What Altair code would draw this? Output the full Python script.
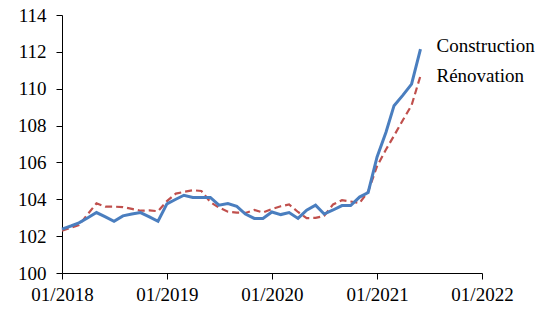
import altair as alt
import pandas as pd

months = pd.date_range("2018-01-01", "2021-06-01", freq="MS").strftime("%Y-%m-%d").tolist()

construction = [
    102.38, 102.55, 102.72, 103.00, 103.28, 103.05, 102.81, 103.10, 103.20, 103.28, 103.05, 102.81,
    103.75, 104.00, 104.22, 104.10, 104.10, 104.10, 103.68, 103.77, 103.62, 103.20, 102.96, 102.96,
    103.31, 103.17, 103.28, 102.96, 103.41, 103.68, 103.20, 103.42, 103.66, 103.66, 104.12, 104.37,
    106.30, 107.64, 109.08, 109.65, 110.25, 112.15,
]
renovation = [
    102.30, 102.45, 102.60, 103.20, 103.78, 103.60, 103.60, 103.58, 103.48, 103.38, 103.40, 103.35,
    103.90, 104.31, 104.40, 104.49, 104.45, 103.85, 103.55, 103.33, 103.28, 103.26, 103.42, 103.28,
    103.47, 103.62, 103.72, 103.31, 102.98, 102.99, 103.10, 103.72, 103.95, 103.88, 103.80, 104.42,
    105.80, 106.70, 107.45, 108.30, 109.10, 110.70,
]
series_names = ["Construction", "Rénovation"]
colors = ["#4A7EBF", "#C0504D"]
year_ticks = [2018, 2019, 2020, 2021, 2022]
y_ticks = list(range(100, 115, 2))

df = pd.DataFrame({
    "date": months * 2,
    "value": construction + renovation,
    "serie": [series_names[0]] * len(months) + [series_names[1]] * len(months),
})
last = pd.DataFrame({
    "date": [months[-1], months[-1]],
    "value": [construction[-1], renovation[-1]],
    "serie": series_names,
})

FONT = "Liberation Serif"
FS = 19

x_enc = alt.X(
    "date:T",
    scale=alt.Scale(type="utc",
                    domain=[alt.DateTime(year=2018, month=1, date=1, utc=True),
                            alt.DateTime(year=2022, month=1, date=1, utc=True)]),
    axis=alt.Axis(values=[alt.DateTime(year=y, month=1, date=1, utc=True) for y in year_ticks],
                  labelExpr="utcFormat(datum.value, '%m/%Y')", title=None, grid=False,
                  labelOverlap=False, labelFlush=False,
                  domainColor="black", tickColor="black", tickSize=6,
                  labelColor="black", labelFont=FONT, labelFontSize=FS, labelPadding=6),
)
y_enc = alt.Y(
    "value:Q",
    scale=alt.Scale(domain=[100, 114], nice=False, zero=False),
    axis=alt.Axis(values=y_ticks, title=None, grid=False, labelOverlap=False,
                  domainColor="black", tickColor="black", tickSize=6,
                  labelColor="black", labelFont=FONT, labelFontSize=FS, labelPadding=10),
)

base = alt.Chart(df)
blue = base.transform_filter(alt.datum.serie == series_names[0]).mark_line(
    color=colors[0], strokeWidth=3).encode(x=x_enc, y=y_enc)
red = base.transform_filter(alt.datum.serie == series_names[1]).mark_line(
    color=colors[1], strokeWidth=2.2, strokeDash=[7, 4]).encode(x=x_enc, y=y_enc)

lab_base = alt.Chart(last)
lab1 = lab_base.transform_filter(alt.datum.serie == series_names[0]).mark_text(
    align="left", baseline="middle", dx=16, dy=-3, font=FONT, fontSize=FS, color="black"
).encode(x=x_enc, y=y_enc, text="serie:N")
lab2 = lab_base.transform_filter(alt.datum.serie == series_names[1]).mark_text(
    align="left", baseline="middle", dx=16, dy=0, font=FONT, fontSize=FS, color="black"
).encode(x=x_enc, y=y_enc, text="serie:N")

chart = alt.layer(red, blue, lab1, lab2).properties(
    width=420, height=258,
    autosize=alt.AutoSizeParams(type="none"),
    padding={"left": 62, "top": 15, "right": 74, "bottom": 46},
    background="white",
).configure_view(stroke=None)

chart.save("out.html", embed_options={"renderer": "svg", "actions": False})
